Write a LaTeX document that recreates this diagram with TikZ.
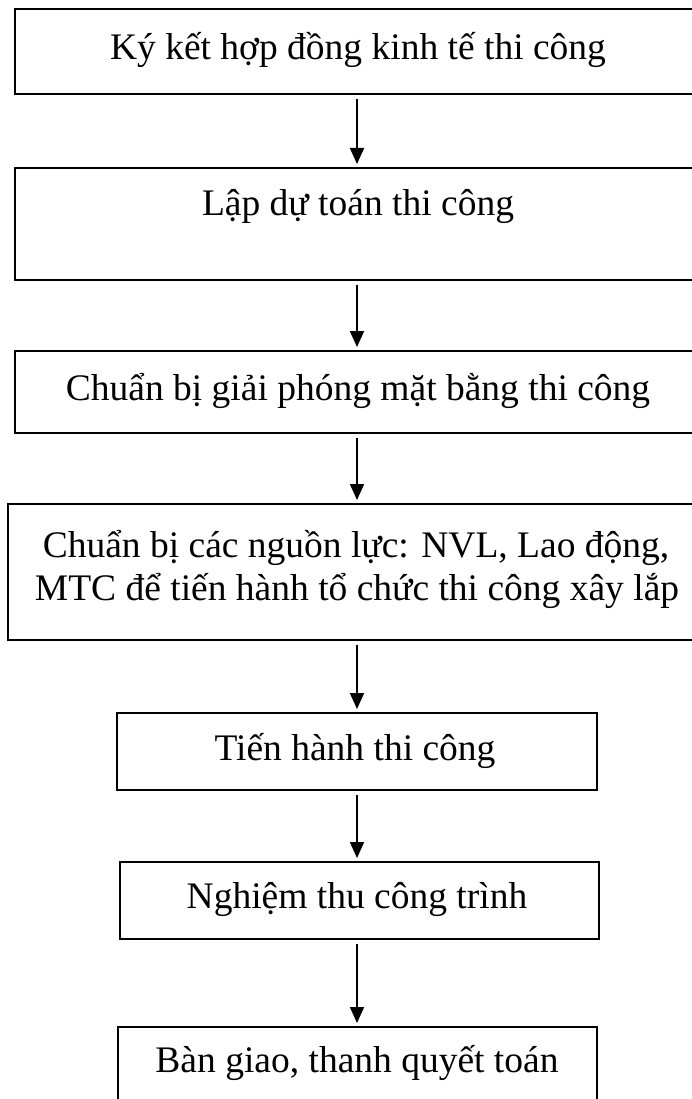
\documentclass[tikz,border=0pt]{standalone}
\usepackage{fontspec}
\setmainfont{Liberation Serif}
\usetikzlibrary{arrows.meta}
\begin{document}
\begin{tikzpicture}[x=1pt,y=-1pt,
  boxline/.style={draw=black,line width=1.8pt},
  lbl/.style={anchor=base,inner sep=0pt,font=\fontsize{37.5}{43}\selectfont},
  flow/.style={line width=1.8pt,-{Triangle[length=16pt,width=14pt]},shorten <=5pt,shorten >=4pt}]
\useasboundingbox (0,0) rectangle (691,1099);
\fill[white] (0,0) rectangle (691,1099);
% boxes
\draw[boxline] (15,9) rectangle (705,94) coordinate (b1br);
\draw[boxline] (15,168) rectangle (705,280);
\draw[boxline] (15,351) rectangle (705,433);
\draw[boxline] (8,504) rectangle (708,640);
\draw[boxline] (117,713) rectangle (597,790);
\draw[boxline] (120,862) rectangle (599,939);
\draw[boxline] (118,1027) rectangle (597,1115);
% nodes for connectors (box edges)
\coordinate (b1) at (357,94);
\coordinate (b2t) at (357,168);
\coordinate (b2) at (357,280);
\coordinate (b3t) at (357,351);
\coordinate (b3) at (357,433);
\coordinate (b4t) at (357,504);
\coordinate (b4) at (357,640);
\coordinate (b5t) at (357,713);
\coordinate (b5) at (357,790);
\coordinate (b6t) at (357,862);
\coordinate (b6) at (357,939);
\coordinate (b7t) at (357,1027);
% texts
\node[lbl] (t1) at (358,60) {Ký kết hợp đồng kinh tế thi công};
\node[lbl] (t2) at (358,215) {Lập dự toán thi công};
\node[lbl] (t3) at (358,400) {Chuẩn bị giải phóng mặt bằng thi công};
\node[lbl] (t4a) at (356,557) {Chuẩn bị các nguồn lực: NVL, Lao động,};
\node[lbl] (t4b) at (357,600) {MTC để tiến hành tổ chức thi công xây lắp};
\node[lbl] (t5) at (355,760) {Tiến hành thi công};
\node[lbl] (t6) at (357,908) {Nghiệm thu công trình};
\node[lbl] (t7) at (357,1072) {Bàn giao, thanh quyết toán};
% connectors
\draw[flow] (b1) -- (b2t);
\draw[flow] (b2) -- (b3t);
\draw[flow] (b3) -- (b4t);
\draw[flow] (b4) -- (b5t);
\draw[flow] (b5) -- (b6t);
\draw[flow] (b6) -- (b7t);
\end{tikzpicture}
\end{document}
